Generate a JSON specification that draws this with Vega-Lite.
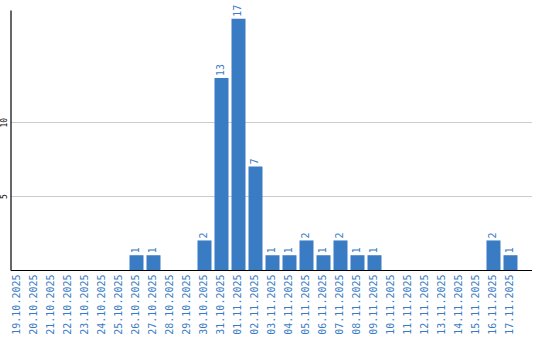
{
  "$schema": "https://vega.github.io/schema/vega-lite/v6.json",
  "width": 521,
  "height": 260,
  "autosize": {"type": "none"},
  "padding": {"left": 10.5, "top": 10, "right": 8.5, "bottom": 70},
  "background": "white",
  "config": {"view": {"stroke": null}},
  "data": {"values": [
    {"d": "19.10.2025", "v": 0},
    {"d": "20.10.2025", "v": 0},
    {"d": "21.10.2025", "v": 0},
    {"d": "22.10.2025", "v": 0},
    {"d": "23.10.2025", "v": 0},
    {"d": "24.10.2025", "v": 0},
    {"d": "25.10.2025", "v": 0},
    {"d": "26.10.2025", "v": 1},
    {"d": "27.10.2025", "v": 1},
    {"d": "28.10.2025", "v": 0},
    {"d": "29.10.2025", "v": 0},
    {"d": "30.10.2025", "v": 2},
    {"d": "31.10.2025", "v": 13},
    {"d": "01.11.2025", "v": 17},
    {"d": "02.11.2025", "v": 7},
    {"d": "03.11.2025", "v": 1},
    {"d": "04.11.2025", "v": 1},
    {"d": "05.11.2025", "v": 2},
    {"d": "06.11.2025", "v": 1},
    {"d": "07.11.2025", "v": 2},
    {"d": "08.11.2025", "v": 1},
    {"d": "09.11.2025", "v": 1},
    {"d": "10.11.2025", "v": 0},
    {"d": "11.11.2025", "v": 0},
    {"d": "12.11.2025", "v": 0},
    {"d": "13.11.2025", "v": 0},
    {"d": "14.11.2025", "v": 0},
    {"d": "15.11.2025", "v": 0},
    {"d": "16.11.2025", "v": 2},
    {"d": "17.11.2025", "v": 1}
  ]},
  "encoding": {
    "x": {
      "field": "d", "type": "nominal", "sort": null,
      "scale": {"paddingInner": 0.1765, "paddingOuter": 0.412, "align": 0},
      "axis": {
        "title": null, "labelAngle": -90, "labelAlign": "right", "labelBaseline": "middle",
        "labelFont": "DejaVu Sans Mono", "labelFontSize": 10, "labelColor": "#3a7cc4",
        "labelPadding": 4, "ticks": false, "domainColor": "#000000", "domainWidth": 1.2,
        "grid": false, "labelOverlap": false
      }
    },
    "y": {
      "field": "v", "type": "quantitative",
      "scale": {"domain": [0, 17.6], "nice": false, "zero": true},
      "axis": {
        "title": null, "values": [5, 10], "labelAngle": -90, "labelAlign": "center",
        "labelBaseline": "middle", "labelFont": "DejaVu Sans Mono", "labelFontSize": 8,
        "labelColor": "#000000", "labelPadding": 6, "ticks": false,
        "domainColor": "#000000", "domainWidth": 1.2, "gridColor": "#cccccc", "gridWidth": 1
      }
    }
  },
  "layer": [
    {"mark": {"type": "bar", "color": "#3a7cc4"}},
    {
      "transform": [{"filter": "datum.v > 0"}],
      "mark": {"type": "text", "angle": -90, "align": "left", "baseline": "middle", "dx": 2,
               "font": "DejaVu Sans Mono", "fontSize": 10, "color": "#3a7cc4"},
      "encoding": {"text": {"field": "v", "type": "quantitative"}}
    }
  ]
}
